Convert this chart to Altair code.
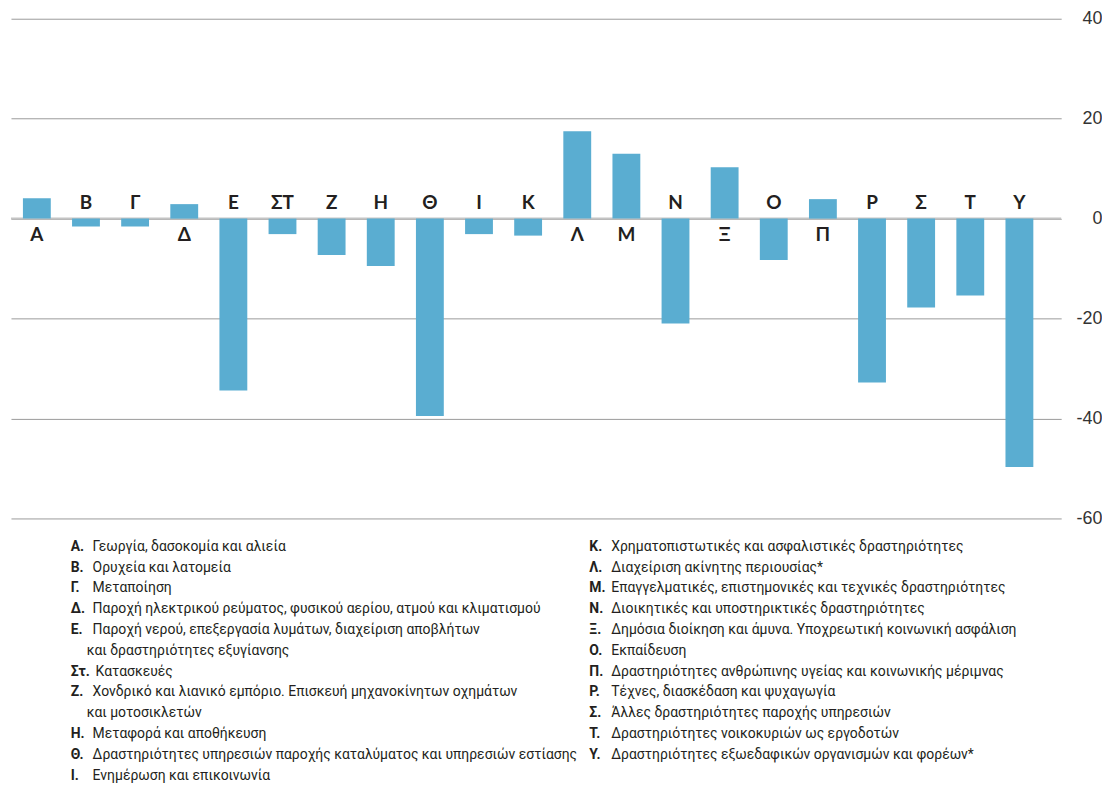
import altair as alt
import pandas as pd

# ---- data ----
bar_letters = ["Α", "Β", "Γ", "Δ", "Ε", "ΣΤ", "Ζ", "Η", "Θ", "Ι", "Κ",
               "Λ", "Μ", "Ν", "Ξ", "Ο", "Π", "Ρ", "Σ", "Τ", "Υ"]
bar_values = [4.1, -1.6, -1.6, 2.9, -34.4, -3.1, -7.3, -9.5, -39.5, -3.1, -3.4,
              17.5, 13.0, -21.0, 10.3, -8.3, 3.9, -32.8, -17.8, -15.4, -49.7]

y_ticks = [40, 20, 0, -20, -40, -60]

legend_codes = ["Α.", "Β.", "Γ.", "Δ.", "Ε.", "Στ.", "Ζ.", "Η.", "Θ.", "Ι.",
                "Κ.", "Λ.", "Μ.", "Ν.", "Ξ.", "Ο.", "Π.", "Ρ.", "Σ.", "Τ.", "Υ."]
legend_texts = [
    ["Γεωργία, δασοκομία και αλιεία"],
    ["Ορυχεία και λατομεία"],
    ["Μεταποίηση"],
    ["Παροχή ηλεκτρικού ρεύματος, φυσικού αερίου, ατμού και κλιματισμού"],
    ["Παροχή νερού, επεξεργασία λυμάτων, διαχείριση αποβλήτων",
     "και δραστηριότητες εξυγίανσης"],
    ["Κατασκευές"],
    ["Χονδρικό και λιανικό εμπόριο. Επισκευή μηχανοκίνητων οχημάτων",
     "και μοτοσικλετών"],
    ["Μεταφορά και αποθήκευση"],
    ["Δραστηριότητες υπηρεσιών παροχής καταλύματος και υπηρεσιών εστίασης"],
    ["Ενημέρωση και επικοινωνία"],
    ["Χρηματοπιστωτικές και ασφαλιστικές δραστηριότητες"],
    ["Διαχείριση ακίνητης περιουσίας*"],
    [" Επαγγελματικές, επιστημονικές και τεχνικές δραστηριότητες"],
    ["Διοικητικές και υποστηρικτικές δραστηριότητες"],
    ["Δημόσια διοίκηση και άμυνα. Υποχρεωτική κοινωνική ασφάλιση"],
    ["Εκπαίδευση"],
    ["Δραστηριότητες ανθρώπινης υγείας και κοινωνικής μέριμνας"],
    ["Τέχνες, διασκέδαση και ψυχαγωγία"],
    ["Άλλες δραστηριότητες παροχής υπηρεσιών"],
    ["Δραστηριότητες νοικοκυριών ως εργοδοτών"],
    ["Δραστηριότητες εξωεδαφικών οργανισμών και φορέων*"],
]
left_count = 10  # Α .. Ι in the left column

# ---- layout constants ----
W = 1055
H = 502
COL_X = [60, 581]
ROW_H = 20.9
N_ROWS = 12
FONT = "Roboto"
TEXT_COLOR = "#231f20"
BAR_COLOR = "#5aadd1"

bars_df = pd.DataFrame({"letter": bar_letters, "value": bar_values})

x_enc = alt.X("letter:N", sort=bar_letters, axis=None,
              scale=alt.Scale(paddingInner=0.433, paddingOuter=0.405, align=0.3))
y_scale = alt.Scale(domain=[-60, 40], nice=False, zero=False)

bars = alt.Chart(bars_df).mark_bar(color=BAR_COLOR).encode(
    x=x_enc,
    y=alt.Y("value:Q", scale=y_scale,
            axis=alt.Axis(orient="right", values=y_ticks, title=None, domain=False,
                          ticks=False, tickSize=0, labelAlign="right", labelPadding=41,
                          labelExpr="'' + datum.value",
                          labelFont="Liberation Sans", labelFontSize=18,
                          labelColor="#333333", grid=True, gridColor="#9a9a9a",
                          gridWidth=1)),
)

zero_rule = alt.Chart(pd.DataFrame({"z": [0]})).mark_rule(
    color="#c4c4c4", strokeWidth=2).encode(y=alt.Y("z:Q", scale=y_scale))

lab_neg = alt.Chart(bars_df).transform_filter("datum.value < 0").transform_calculate(
    z="0").mark_text(
    font="Lato", fontWeight="bold", fontSize=19, color=TEXT_COLOR,
    baseline="alphabetic", dy=-10).encode(
    x=x_enc, y=alt.Y("z:Q", scale=y_scale), text="letter:N")

lab_pos = alt.Chart(bars_df).transform_filter("datum.value >= 0").transform_calculate(
    z="0").mark_text(
    font="Lato", fontWeight="bold", fontSize=19, color=TEXT_COLOR,
    baseline="alphabetic", dy=22).encode(
    x=x_enc, y=alt.Y("z:Q", scale=y_scale), text="letter:N")

top = alt.layer(zero_rule, bars, lab_neg, lab_pos).properties(width=W, height=H)

# ---- legend table ----
leg = []
row_idx = [0, 0]
for i, (code, lines) in enumerate(zip(legend_codes, legend_texts)):
    col = 0 if i < left_count else 1
    base = COL_X[col]
    desc_off = 22 + 3 * (len(code) - 2)
    for j, line in enumerate(lines):
        r = row_idx[col]
        leg.append({"row": r, "kind": "code", "x": base, "text": code if j == 0 else ""})
        leg.append({"row": r, "kind": "desc",
                    "x": base + (desc_off if j == 0 else desc_off - 6), "text": line})
        row_idx[col] += 1
leg_df = pd.DataFrame(leg)

lx = alt.X("x:Q", scale=alt.Scale(domain=[0, W], nice=False, zero=False), axis=None)
ly = alt.Y("row:Q", scale=alt.Scale(domain=[-0.5, N_ROWS - 0.5], reverse=True,
                                     nice=False, zero=False), axis=None)

leg_codes = alt.Chart(leg_df).transform_filter("datum.kind == 'code'").mark_text(
    font=FONT, fontWeight="bold", fontSize=14, color=TEXT_COLOR,
    align="left", baseline="middle").encode(x=lx, y=ly, text="text:N")
leg_desc = alt.Chart(leg_df).transform_filter("datum.kind == 'desc'").mark_text(
    font=FONT, fontSize=14, color=TEXT_COLOR,
    align="left", baseline="middle").encode(x=lx, y=ly, text="text:N")

legend = alt.layer(leg_codes, leg_desc).properties(width=W, height=N_ROWS * ROW_H)

chart = alt.vconcat(top, legend, spacing=9).properties(
    padding={"left": 2, "top": 0, "right": 0, "bottom": 0},
    background="white",
).configure(font=FONT).configure_view(stroke=None)

chart.save("out.html", embed_options={"renderer": "svg", "actions": False})
